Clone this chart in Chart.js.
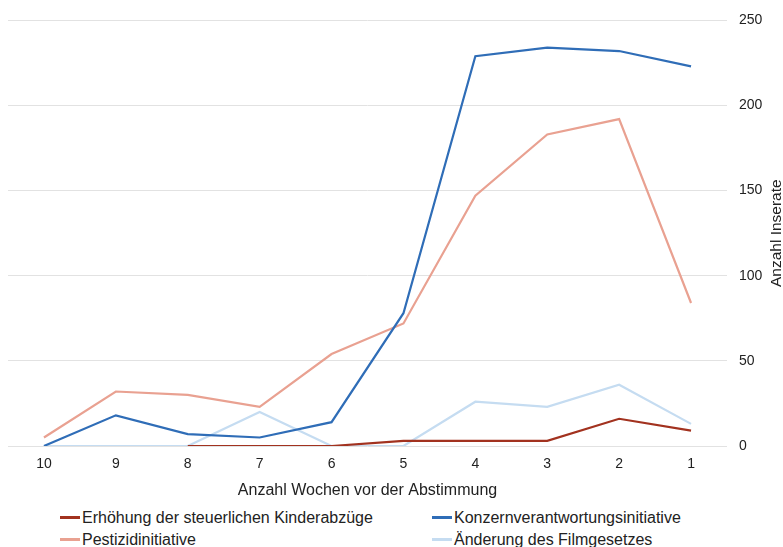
<!DOCTYPE html>
<html>
<head>
<meta charset="utf-8">
<script src="https://cdn.jsdelivr.net/npm/chart.js@4/dist/chart.umd.min.js"></script>
<style>
  html, body { margin: 0; padding: 0; background: #fff; }
  body { width: 783px; height: 547px; position: relative; overflow: hidden; font-family: "Liberation Sans", Arial, sans-serif; }
  #wrap { position: absolute; left: 0; top: 0; width: 783px; height: 500px; }
  #legend { position: absolute; left: 0; top: 507px; width: 783px; height: 40px; color: #222; font-size: 16px; }
  .item { position: absolute; height: 22px; line-height: 22px; white-space: nowrap; }
  .mark { display: inline-block; width: 20px; height: 3px; vertical-align: middle; margin-right: 2px; position: relative; top: -1px; }
</style>
</head>
<body>
<div id="wrap"><canvas id="c" width="783" height="500"></canvas></div>
<div id="legend"></div>
<script>
const categories = ["10", "9", "8", "7", "6", "5", "4", "3", "2", "1"];
const seriesNames = [
  "Erhöhung der steuerlichen Kinderabzüge",
  "Konzernverantwortungsinitiative",
  "Pestizidinitiative",
  "Änderung des Filmgesetzes"
];
const kinderabzuege = [null, null, 0, 0, 0, 3, 3, 3, 16, 9];
const konzern = [0, 18, 7, 5, 14, 78, 229, 234, 232, 223];
const pestizid = [5, 32, 30, 23, 54, 72, 147, 183, 192, 84];
const filmgesetz = [0, 0, 0, 20, 0, 0, 26, 23, 36, 13];
const yTicks = [0, 50, 100, 150, 200, 250];
const xTitle = "Anzahl Wochen vor der Abstimmung";
const yTitle = "Anzahl Inserate";

const colors = ["#a2321f", "#2f6db7", "#e9a191", "#c5dcf1"];
const seriesData = [kinderabzuege, konzern, pestizid, filmgesetz];

const font = "'Liberation Sans', Arial, sans-serif";

const yTitlePlugin = {
  id: "yTitleUp",
  afterDraw(chart) {
    const ctx = chart.ctx;
    const area = chart.chartArea;
    ctx.save();
    ctx.translate(777, (area.top + area.bottom) / 2);
    ctx.rotate(-Math.PI / 2);
    ctx.fillStyle = "#222";
    ctx.font = "15.5px " + font;
    ctx.textAlign = "center";
    ctx.textBaseline = "middle";
    ctx.fillText(yTitle, 0, 0);
    ctx.restore();
  }
};

const chart = new Chart(document.getElementById("c"), {
  type: "line",
  data: {
    labels: categories,
    datasets: seriesData.map((d, i) => ({
      label: seriesNames[i],
      data: d,
      borderColor: colors[i],
      backgroundColor: colors[i],
      borderWidth: 2.2,
      pointRadius: 0,
      tension: 0,
      fill: false
    }))
  },
  options: {
    responsive: false,
    animation: false,
    layout: { padding: { left: 8, top: 20, right: 0, bottom: 0 } },
    plugins: { legend: { display: false }, tooltip: { enabled: false } },
    scales: {
      x: {
        offset: true,
        grid: { display: false, drawTicks: false },
        border: { display: false },
        ticks: { color: "#222", font: { family: font, size: 14 }, padding: 10, maxRotation: 0 },
        title: { display: true, text: xTitle, color: "#222", font: { family: font, size: 16 }, padding: { top: 3, bottom: 0 } },
        afterFit: (s) => { s.height = 54; }
      },
      y: {
        position: "right",
        min: 0,
        max: 250,
        afterBuildTicks: (s) => { s.ticks = yTicks.map(v => ({ value: v })); },
        grid: { color: "#e2e2e2", lineWidth: 1, drawTicks: false },
        border: { display: false },
        ticks: { color: "#222", font: { family: font, size: 14 }, padding: 12 },
        title: { display: false },
        afterFit: (s) => { s.width = 56; }
      }
    }
  },
  plugins: [yTitlePlugin]
});

const legend = document.getElementById("legend");
const pos = [[60, 0], [432, 0], [60, 22], [432, 22]];
seriesNames.forEach((n, i) => {
  const el = document.createElement("div");
  el.className = "item";
  el.style.left = pos[i][0] + "px";
  el.style.top = pos[i][1] + "px";
  const m = document.createElement("span");
  m.className = "mark";
  m.style.background = colors[i];
  el.appendChild(m);
  el.appendChild(document.createTextNode(n));
  legend.appendChild(el);
});
</script>
</body>
</html>
